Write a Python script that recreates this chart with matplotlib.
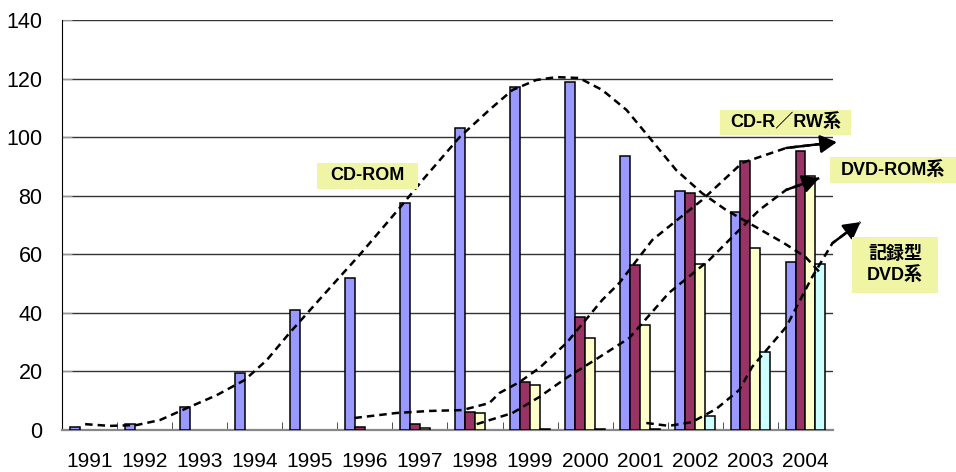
import matplotlib
matplotlib.use("Agg")
from matplotlib import pyplot as plt
from matplotlib.patches import Rectangle
import numpy

plt.rcParams['font.family'] = ['Liberation Sans', 'Noto Sans CJK JP', 'DejaVu Sans']

years = ["1991", "1992", "1993", "1994", "1995", "1996", "1997", "1998",
         "1999", "2000", "2001", "2002", "2003", "2004"]

cd_rom = [1, 2, 8, 19.5, 41, 52, 77.5, 103, 117, 119, 93.5, 81.5, 74.5, 57.5]
cd_rw = [0, 0, 0, 0, 0, 1.1, 2.0, 6.1, 16.5, 38.5, 56.5, 81, 91.8, 95.2]
dvd_rom = [0, 0, 0, 0, 0, 0, 0.8, 5.7, 15.4, 31.3, 35.8, 56.8, 62, 86.6]
dvd_rec = [0, 0, 0, 0, 0, 0, 0, 0, 0.4, 0.4, 0.5, 4.8, 26.7, 56.6]

series_colors = ['#9999ff', '#993366', '#ffffcc', '#ccffff']

# hand-drawn trend curves (x in category units, y in data units)
cdrom_trend_x = [-0.08, 0.37, 0.86, 1.28, 1.77, 2.31, 2.82, 3.22, 3.63, 4.12, 4.54, 4.9,
                 5.63, 6.05, 6.72, 7.26, 7.68, 8.11, 8.48, 8.89, 9.31, 9.75, 10.16,
                 10.65, 11.12, 11.56, 12.1, 12.61, 13.0, 13.3]
cdrom_trend_y = [2.0, 1.4, 1.7, 3.4, 7.5, 11.9, 17.1, 23.9, 33.1, 43.4, 52.2, 59.7,
                 75.8, 85.4, 100, 109.3, 116.1, 119.5, 120.5, 120.2, 116.1, 109.3, 100,
                 88.8, 80.9, 75.1, 69.3, 63.8, 59.1, 53.0]
cdrw_trend_x = [4.81, 5.57, 6.17, 6.77, 7.26, 7.44, 7.81, 8.17, 8.66, 9.31, 9.62, 10.22,
                11.12, 11.85, 12.65, 13.57]
cdrw_trend_y = [4.1, 5.8, 6.5, 6.8, 9.2, 12.6, 16.4, 21.2, 29.7, 44.4, 50.2, 64.9,
                78.5, 91.2, 96.3, 98.3]
dvdrom_trend_x = [7.03, 7.68, 8.17, 8.66, 9.26, 9.8, 10.52, 11.25, 12.16, 12.65, 13.25]
dvdrom_trend_y = [2.0, 5.8, 11.3, 17.8, 24.9, 31.4, 46.8, 58.0, 75.1, 82, 86.0]
dvdrec_trend_x = [10.11, 10.52, 10.94, 11.38, 11.8, 12.03, 12.65, 13.12, 13.49, 14.0]
dvdrec_trend_y = [2.4, 1.4, 2.7, 7.2, 13.7, 21.5, 35.2, 52.2, 63.8, 71.0]

W, H = 956, 472
fig = plt.figure(figsize=(W / 100., H / 100.), dpi=100)
ax = fig.add_axes([62. / W, 1 - 430. / H, (833. - 62.) / W, (430. - 20.) / H])

x = numpy.arange(len(years))
width = 0.18
for i, (vals, col) in enumerate(zip([cd_rom, cd_rw, dvd_rom, dvd_rec], series_colors)):
    # empty years get no outline so nothing is drawn on the baseline
    lws = [1.1 if v > 0 else 0 for v in vals]
    ax.bar(x + (i - 1.5) * width, vals, width, color=col, edgecolor='black',
           linewidth=lws, zorder=3)

ax.set_xlim(-0.5, len(years) - 0.5)
ax.set_ylim(0, 140)
ax.set_yticks(numpy.arange(0, 141, 20))
ax.yaxis.grid(True, color='#333333', linewidth=1.0)
ax.set_axisbelow(True)

ax.set_xticks(x)
ax.set_xticklabels(years, fontsize=15)
ax.set_xticks(numpy.arange(0.5, len(years) - 0.5, 1), minor=True)
ax.tick_params(axis='x', which='major', length=0, pad=16)
ax.tick_params(axis='x', which='minor', direction='in', length=6, color='#333333')
ax.tick_params(axis='y', direction='in', length=7, color='#999999', labelsize=15.5, pad=14)

for s in ['top', 'right']:
    ax.spines[s].set_visible(False)
ax.spines['left'].set_color('black')
ax.spines['bottom'].set_color('#888888')
ax.spines['bottom'].set_linewidth(1.6)


def trend(xs, ys, arrow):
    ax.plot(xs, ys, color='black', linestyle=(0, (3, 2)), linewidth=1.8,
            zorder=5, clip_on=False)
    if arrow:
        ax.annotate('', xy=(xs[-1], ys[-1]), xytext=(xs[-2], ys[-2]),
                    arrowprops=dict(arrowstyle='-|>,head_length=1.0,head_width=0.55',
                                    color='black', lw=1.8, shrinkA=0, shrinkB=0),
                    annotation_clip=False, zorder=6)


trend(cdrom_trend_x, cdrom_trend_y, False)
trend(cdrw_trend_x, cdrw_trend_y, True)
trend(dvdrom_trend_x, dvdrom_trend_y, True)
trend(dvdrec_trend_x, dvdrec_trend_y, True)

# label boxes, given in pixels from the top-left corner
labels = [("CD-ROM", 317, 163, 101, 26),
          ("CD-R／RW系", 720, 110, 131, 25),
          ("DVD-ROM系", 830, 157, 126, 26),
          ("記録型\nDVD系", 852, 237, 86, 56)]
for txt, px, py, pw, ph in labels:
    fig.add_artist(Rectangle((px / W, 1 - (py + ph) / H), pw / W, ph / H,
                             transform=fig.transFigure, facecolor='#eff5a5',
                             edgecolor='none', zorder=7))
    fig.text((px + pw / 2.) / W, 1 - (py + ph / 2.) / H, txt, ha='center', va='center',
             fontsize=13, fontweight='bold', linespacing=1.25, zorder=8)

fig.savefig("out.png", dpi=100)
